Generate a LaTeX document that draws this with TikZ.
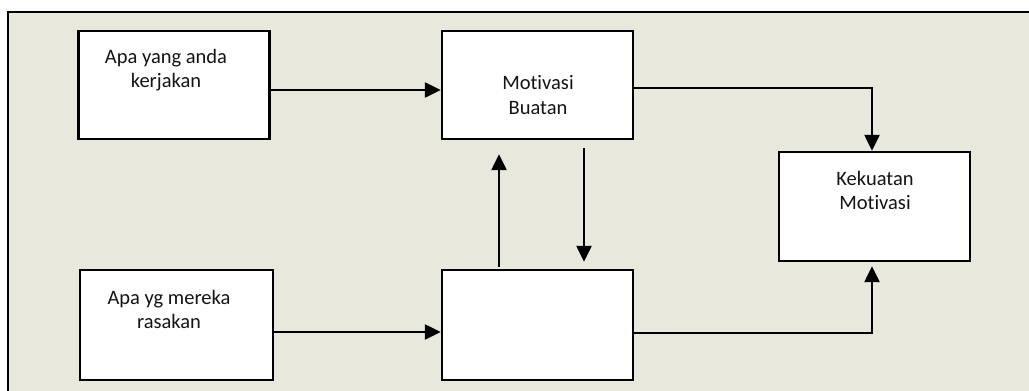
\documentclass[tikz,border=0pt]{standalone}
\usepackage{fontspec}
\setmainfont{Carlito}[Ligatures={NoCommon,NoRare}]
\usetikzlibrary{arrows.meta}
\definecolor{bgbeige}{RGB}{233,232,221}
\definecolor{txtgray}{RGB}{20,20,20}

\begin{document}
\begin{tikzpicture}[x=1pt, y=-1pt,
  box/.style={draw, line width=2.4pt, fill=white, inner sep=0pt, minimum width=191pt, minimum height=108pt},
  txt/.style={align=center, text=txtgray, font=\fontsize{20.5}{24.5}\selectfont, inner sep=0pt},
  arr/.style={line width=2.4pt, -{Triangle[length=16pt,width=15pt]}}]
\useasboundingbox (0,0) rectangle (1029,391);
\fill[bgbeige] (8,12) rectangle (1040,400);
\draw[line width=2.4pt] (8,400) -- (8,12) -- (1040,12);
\node[box] (apa) at (174,85) {};
\node[box] (mot) at (537.5,85) {};
\node[box, minimum height=109pt] (kek) at (874.5,206.5) {};
\node[box, minimum width=193pt, minimum height=110pt] (rasa) at (176.5,325) {};
\node[box, minimum height=110pt] (kosong) at (537.5,325) {};
\node[txt] (tapa) at (166,70) {Apa yang anda\\ kerjakan};
\node[txt] (tmot) at (538,95) {Motivasi\\ Buatan};
\node[txt] (tkek) at (875,190.5) {Kekuatan\\ Motivasi};
\node[txt] (trasa) at (169,309.5) {Apa yg mereka\\ rasakan};
\draw[arr] ([yshift=-5pt]apa.east) -- ([yshift=-5pt]mot.west);
\draw[arr] ([yshift=-7pt]rasa.east) -- ([yshift=-7pt]kosong.west);
\draw[arr] ([xshift=-38.5pt,yshift=2pt]kosong.north) -- ([xshift=-38.5pt,yshift=-14pt]mot.south);
\draw[arr] ([xshift=46.5pt,yshift=-8pt]mot.south) -- ([xshift=46.5pt,yshift=7pt]kosong.north);
\draw[arr] ([yshift=-3pt]mot.east) -| ([xshift=-2.5pt]kek.north);
\draw[arr, shorten >=4pt] ([yshift=-8pt]kosong.east) -| ([xshift=-2.5pt]kek.south);
\end{tikzpicture}
\end{document}
